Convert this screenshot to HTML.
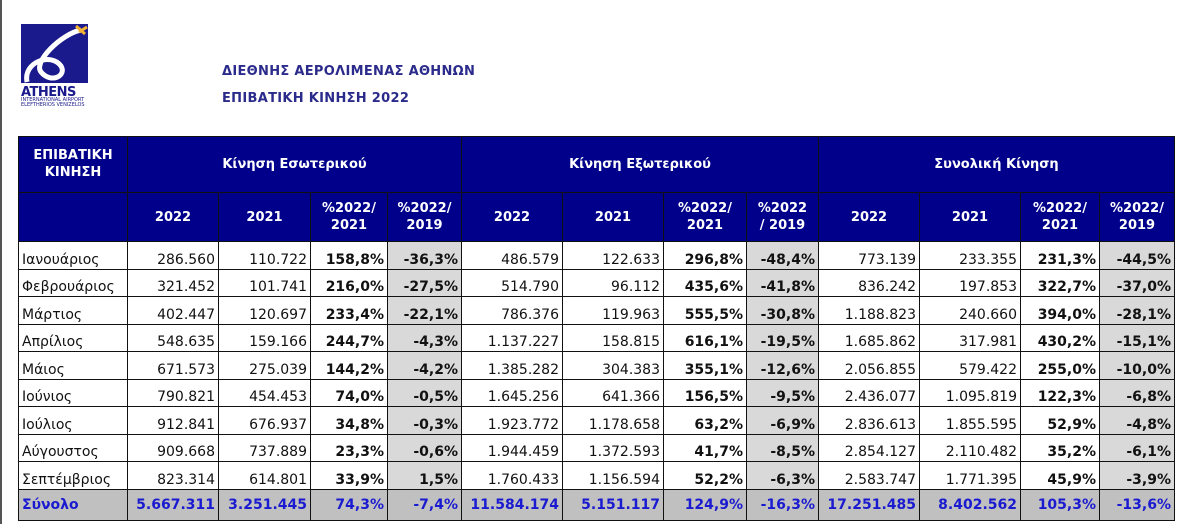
<!DOCTYPE html>
<html><head><meta charset="utf-8"><style>
body{margin:0;width:1200px;height:524px;background:#fff;position:relative;overflow:hidden;font-family:"DejaVu Sans","Liberation Sans",sans-serif}
.lb{position:absolute;left:0;top:0;width:2px;height:524px;background:#555}
.logo{position:absolute;left:21px;top:24px;width:67px;height:59px;background:#1a1a8c}
.t1,.t2{position:absolute;left:222px;color:#2b2b8c;font-weight:bold;font-size:13px;letter-spacing:0.3px}
.t1{top:64px}.t2{top:91px}
table{position:absolute;left:18px;top:136px;border-collapse:collapse;table-layout:fixed;font-size:12.5px}
td{border:1.5px solid #111;padding:0 3px;white-space:nowrap;overflow:hidden}
tr.h td{background:#00008b;color:#fff;font-weight:bold;text-align:center;font-size:13px;line-height:17px}
tr.d td{height:25.5px;text-align:right;vertical-align:bottom;padding-bottom:1px;font-size:14px;color:#111}
tr.d td:first-child{text-align:left}
td.b{font-weight:bold}
td.g{background:#d9d9d9;font-weight:bold}
tr.s td{background:#c0c0c0;color:#1a1ad0;font-weight:bold;height:30px;text-align:right;font-size:14px}
tr.s td:first-child{text-align:left}
</style></head><body>
<div class="lb"></div>
<div class="logo"><svg width="67" height="59" viewBox="0 0 67 59"><path d="M6 58 C2 38 30 28 40 42 C46 52 30 60 20 48 C12 38 40 10 60 6" stroke="#fff" stroke-width="5" fill="none"/><path d="M55 2 L64 10 M58 8 L66 3" stroke="#f2b233" stroke-width="3"/></svg></div>
<div style="position:absolute;left:21px;top:85px;font-weight:bold;font-size:13px;color:#1a1a8c;letter-spacing:-0.5px">ATHENS</div>
<div style="position:absolute;left:21px;top:98px;font-size:5px;color:#1a1a8c;line-height:5px">INTERNATIONAL AIRPORT<br>ELEFTHERIOS VENIZELOS</div>
<div class="t1">ΔΙΕΘΝΗΣ ΑΕΡΟΛΙΜΕΝΑΣ ΑΘΗΝΩΝ</div>
<div class="t2">ΕΠΙΒΑΤΙΚΗ ΚΙΝΗΣΗ 2022</div>
<table>
<colgroup><col style="width:109px"><col style="width:91px"><col style="width:92px"><col style="width:77px"><col style="width:74px"><col style="width:101px"><col style="width:101px"><col style="width:83px"><col style="width:72px"><col style="width:101px"><col style="width:101px"><col style="width:79px"><col style="width:75px"></colgroup>
<tr class="h" style="height:56px"><td style="vertical-align:top;padding-top:10px">ΕΠΙΒΑΤΙΚΗ<br>ΚΙΝΗΣΗ</td><td colspan="4">Κίνηση Εσωτερικού</td><td colspan="4">Κίνηση Εξωτερικού</td><td colspan="4">Συνολική Κίνηση</td></tr>
<tr class="h" style="height:49px"><td></td><td>2022</td><td>2021</td><td>%2022/<br>2021</td><td>%2022/<br>2019</td><td>2022</td><td>2021</td><td>%2022/<br>2021</td><td>%2022<br>/ 2019</td><td>2022</td><td>2021</td><td>%2022/<br>2021</td><td>%2022/<br>2019</td></tr>
<tr class="d"><td>Ιανουάριος</td><td>286.560</td><td>110.722</td><td class="b">158,8%</td><td class="g">-36,3%</td><td>486.579</td><td>122.633</td><td class="b">296,8%</td><td class="g">-48,4%</td><td>773.139</td><td>233.355</td><td class="b">231,3%</td><td class="g">-44,5%</td></tr>
<tr class="d"><td>Φεβρουάριος</td><td>321.452</td><td>101.741</td><td class="b">216,0%</td><td class="g">-27,5%</td><td>514.790</td><td>96.112</td><td class="b">435,6%</td><td class="g">-41,8%</td><td>836.242</td><td>197.853</td><td class="b">322,7%</td><td class="g">-37,0%</td></tr>
<tr class="d"><td>Μάρτιος</td><td>402.447</td><td>120.697</td><td class="b">233,4%</td><td class="g">-22,1%</td><td>786.376</td><td>119.963</td><td class="b">555,5%</td><td class="g">-30,8%</td><td>1.188.823</td><td>240.660</td><td class="b">394,0%</td><td class="g">-28,1%</td></tr>
<tr class="d"><td>Απρίλιος</td><td>548.635</td><td>159.166</td><td class="b">244,7%</td><td class="g">-4,3%</td><td>1.137.227</td><td>158.815</td><td class="b">616,1%</td><td class="g">-19,5%</td><td>1.685.862</td><td>317.981</td><td class="b">430,2%</td><td class="g">-15,1%</td></tr>
<tr class="d"><td>Μάιος</td><td>671.573</td><td>275.039</td><td class="b">144,2%</td><td class="g">-4,2%</td><td>1.385.282</td><td>304.383</td><td class="b">355,1%</td><td class="g">-12,6%</td><td>2.056.855</td><td>579.422</td><td class="b">255,0%</td><td class="g">-10,0%</td></tr>
<tr class="d"><td>Ιούνιος</td><td>790.821</td><td>454.453</td><td class="b">74,0%</td><td class="g">-0,5%</td><td>1.645.256</td><td>641.366</td><td class="b">156,5%</td><td class="g">-9,5%</td><td>2.436.077</td><td>1.095.819</td><td class="b">122,3%</td><td class="g">-6,8%</td></tr>
<tr class="d"><td>Ιούλιος</td><td>912.841</td><td>676.937</td><td class="b">34,8%</td><td class="g">-0,3%</td><td>1.923.772</td><td>1.178.658</td><td class="b">63,2%</td><td class="g">-6,9%</td><td>2.836.613</td><td>1.855.595</td><td class="b">52,9%</td><td class="g">-4,8%</td></tr>
<tr class="d"><td>Αύγουστος</td><td>909.668</td><td>737.889</td><td class="b">23,3%</td><td class="g">-0,6%</td><td>1.944.459</td><td>1.372.593</td><td class="b">41,7%</td><td class="g">-8,5%</td><td>2.854.127</td><td>2.110.482</td><td class="b">35,2%</td><td class="g">-6,1%</td></tr>
<tr class="d"><td>Σεπτέμβριος</td><td>823.314</td><td>614.801</td><td class="b">33,9%</td><td class="g">1,5%</td><td>1.760.433</td><td>1.156.594</td><td class="b">52,2%</td><td class="g">-6,3%</td><td>2.583.747</td><td>1.771.395</td><td class="b">45,9%</td><td class="g">-3,9%</td></tr>
<tr class="s"><td>Σύνολο</td><td>5.667.311</td><td>3.251.445</td><td>74,3%</td><td>-7,4%</td><td>11.584.174</td><td>5.151.117</td><td>124,9%</td><td>-16,3%</td><td>17.251.485</td><td>8.402.562</td><td>105,3%</td><td>-13,6%</td></tr>
</table>
</body></html>
